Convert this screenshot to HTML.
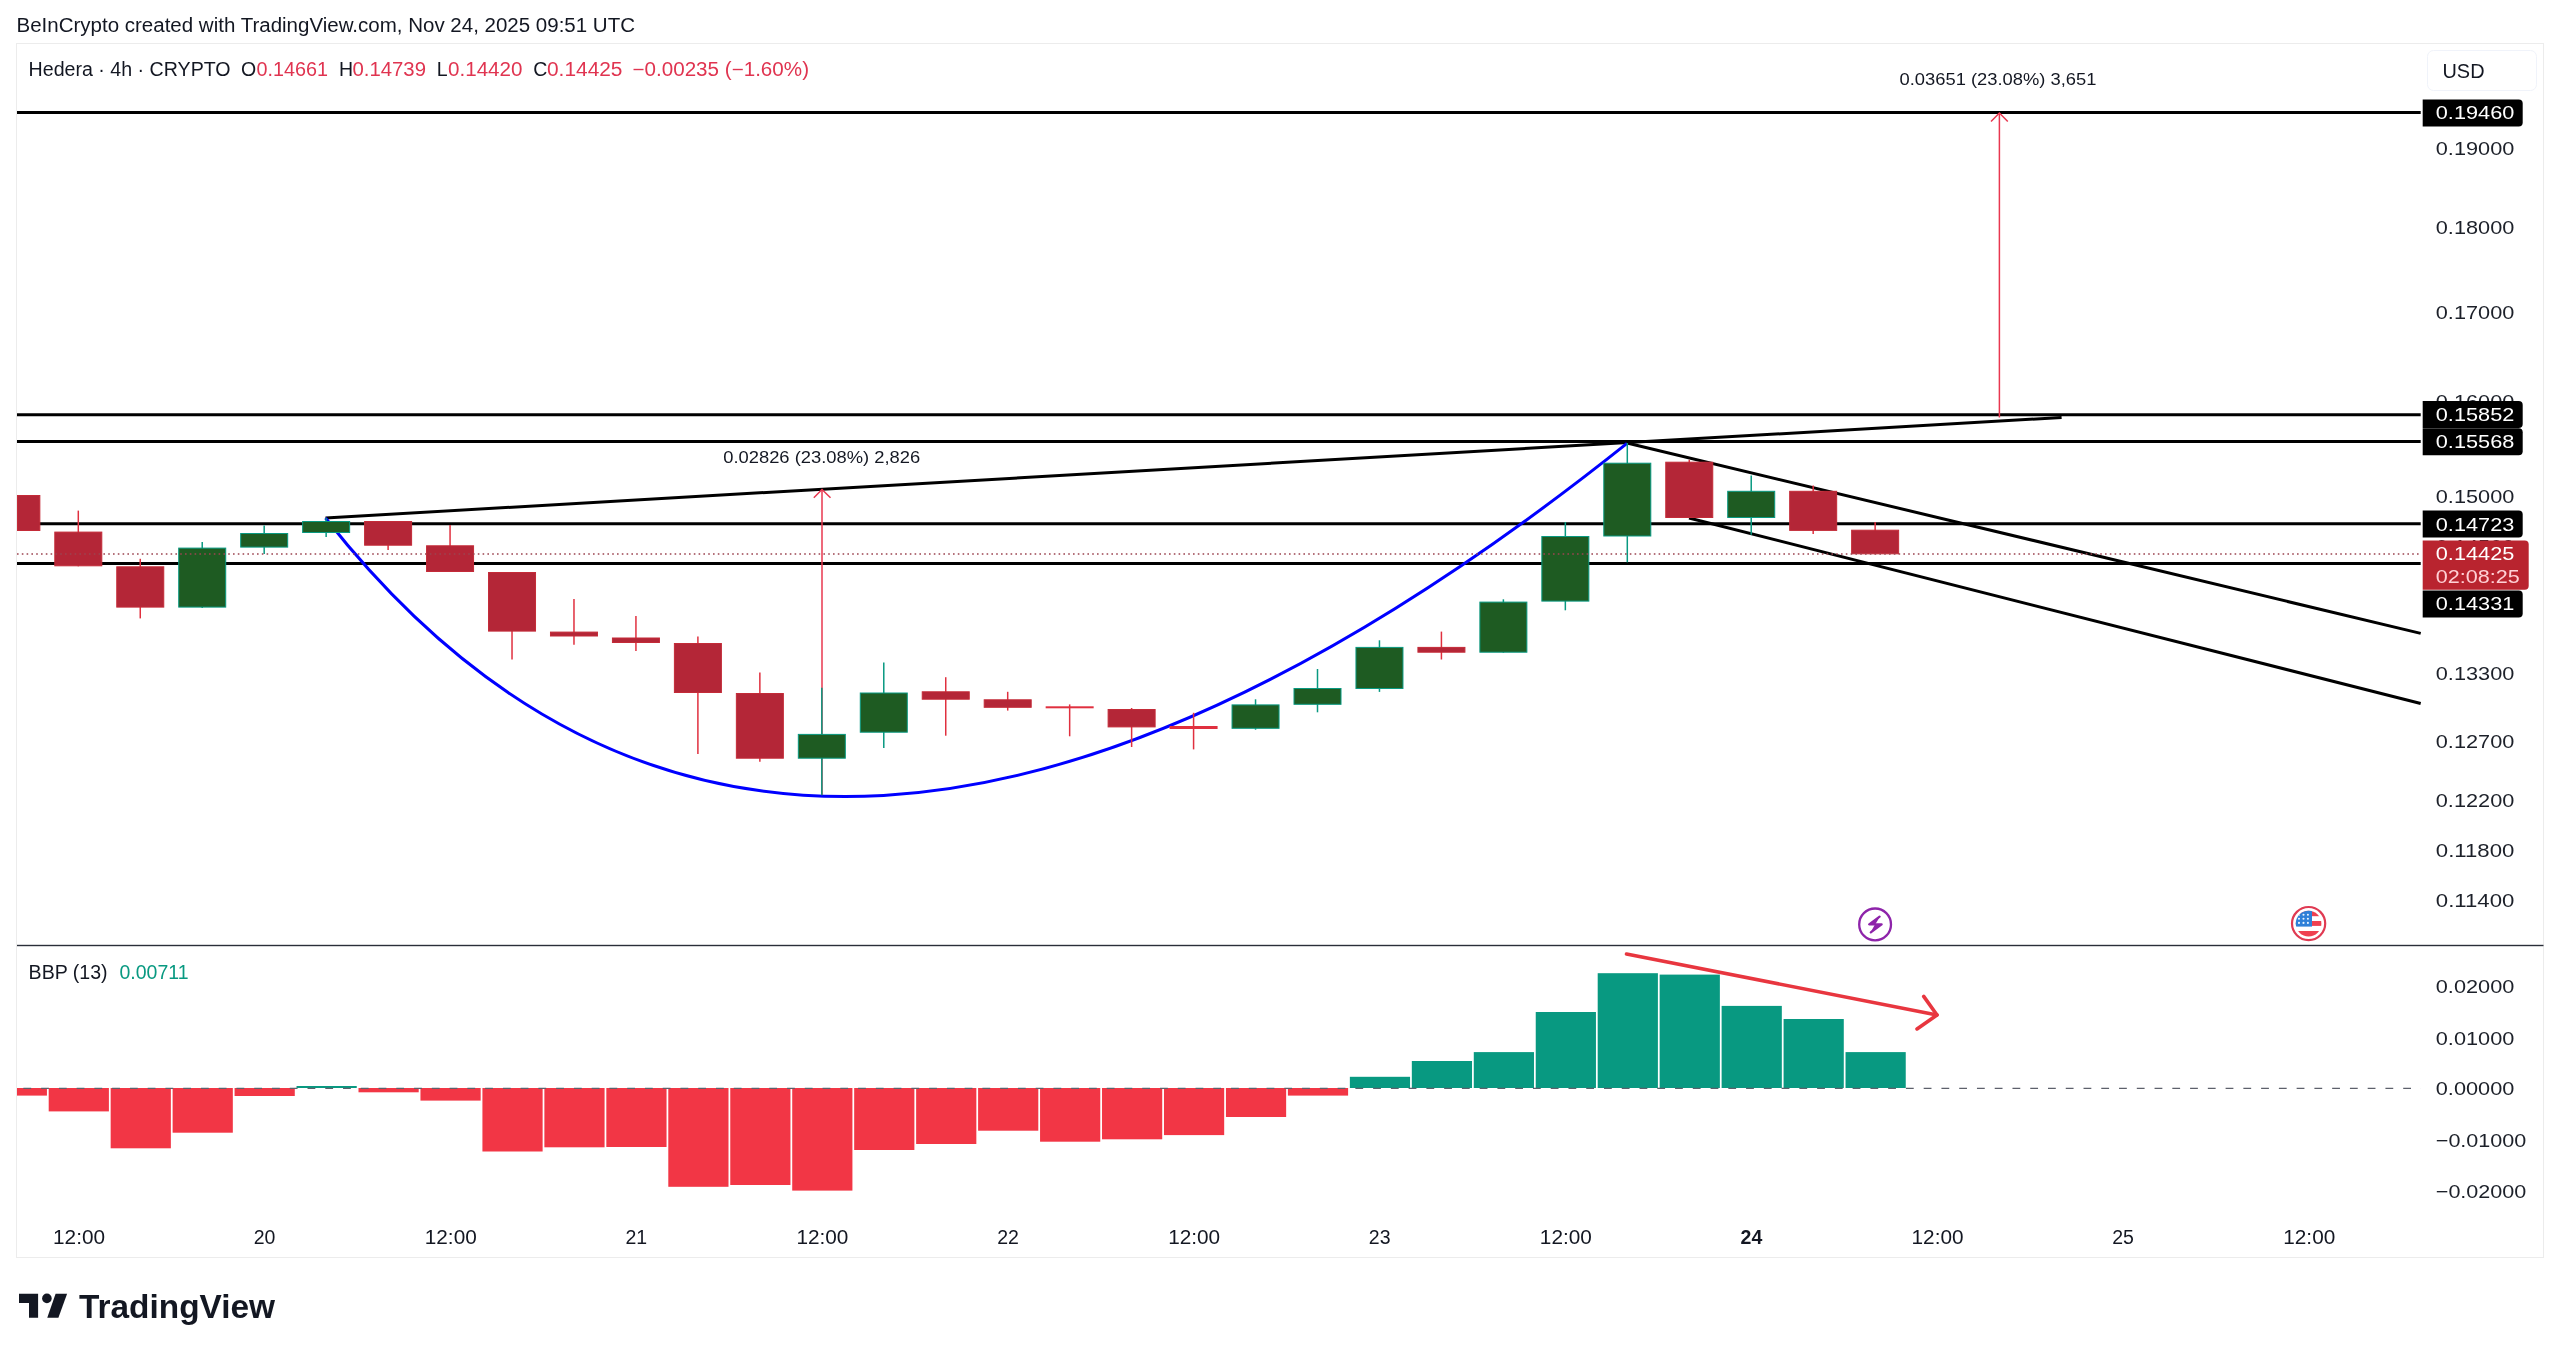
<!DOCTYPE html>
<html><head><meta charset="utf-8"><style>
html,body{margin:0;padding:0;background:#fff;width:2560px;height:1355px;overflow:hidden}
svg{display:block;will-change:transform}
text{font-family:"Liberation Sans",sans-serif}
</style></head><body>
<svg width="2560" height="1355" viewBox="0 0 2560 1355">
<rect width="2560" height="1355" fill="#fff"/>
<rect x="16.5" y="43.5" width="2527" height="1214" fill="#ffffff" stroke="#ececec" stroke-width="1"/>
<text x="16.50" y="32.10" font-size="19.5" fill="#131722" textLength="618.50" lengthAdjust="spacingAndGlyphs">BeInCrypto created with TradingView.com, Nov 24, 2025 09:51 UTC</text>
<text x="28.60" y="75.80" font-size="19.5" fill="#131722" textLength="202.00" lengthAdjust="spacingAndGlyphs">Hedera · 4h · CRYPTO</text>
<text x="241.00" y="75.80" font-size="19.5" fill="#131722">O</text>
<text x="256.50" y="75.80" font-size="19.5" fill="#e03450" textLength="71.50" lengthAdjust="spacingAndGlyphs">0.14661</text>
<text x="339.00" y="75.80" font-size="19.5" fill="#131722">H</text>
<text x="352.50" y="75.80" font-size="19.5" fill="#e03450" textLength="73.50" lengthAdjust="spacingAndGlyphs">0.14739</text>
<text x="436.80" y="75.80" font-size="19.5" fill="#131722">L</text>
<text x="448.00" y="75.80" font-size="19.5" fill="#e03450" textLength="74.50" lengthAdjust="spacingAndGlyphs">0.14420</text>
<text x="533.20" y="75.80" font-size="19.5" fill="#131722">C</text>
<text x="547.00" y="75.80" font-size="19.5" fill="#e03450" textLength="75.50" lengthAdjust="spacingAndGlyphs">0.14425</text>
<text x="632.50" y="75.80" font-size="19.5" fill="#e03450" textLength="176.50" lengthAdjust="spacingAndGlyphs">−0.00235 (−1.60%)</text>
<rect x="2427.5" y="50.5" width="109" height="40" rx="6" fill="#fff" stroke="#f0f3fa" stroke-width="1"/>
<text x="2442.50" y="77.50" font-size="19.5" fill="#131722" textLength="42.00" lengthAdjust="spacingAndGlyphs">USD</text>
<line x1="17" y1="112.6" x2="2420.7" y2="112.6" stroke="#000" stroke-width="3"/>
<line x1="17" y1="414.7" x2="2420.7" y2="414.7" stroke="#000" stroke-width="3"/>
<line x1="17" y1="441.6" x2="2420.7" y2="441.6" stroke="#000" stroke-width="3"/>
<line x1="17" y1="523.8" x2="2420.7" y2="523.8" stroke="#000" stroke-width="3"/>
<line x1="17" y1="563.4" x2="2420.7" y2="563.4" stroke="#000" stroke-width="3"/>
<g stroke="#000" stroke-width="3" stroke-linecap="butt">
<line x1="325.5" y1="518" x2="2061.6" y2="417.5"/>
<line x1="1627" y1="443" x2="2420.7" y2="633.4"/>
<line x1="1689" y1="518" x2="2420.7" y2="703.5"/>
</g>
<path d="M325.5 518 Q790.8 1110.3 1627 443.4" fill="none" stroke="#0000ff" stroke-width="3"/>
<g stroke="#e8374f" stroke-width="1.5" fill="none">
<line x1="822" y1="795" x2="822" y2="489.5"/>
<polyline points="813.8,497.8 822,489.5 830.5,497.8"/>
<line x1="1999.4" y1="417.5" x2="1999.4" y2="113"/>
<polyline points="1991,121.5 1999.4,113 2007.8,121.5"/>
</g>
<text x="723.20" y="462.60" font-size="16.5" fill="#131722" textLength="197.00" lengthAdjust="spacingAndGlyphs">0.02826 (23.08%) 2,826</text>
<text x="1899.50" y="85.20" font-size="16.5" fill="#131722" textLength="197.00" lengthAdjust="spacingAndGlyphs">0.03651 (23.08%) 3,651</text>
<g>
<rect x="17.50" y="495.50" width="22.34" height="35.00" fill="#b42637" stroke="#c42b38" stroke-width="1"/>
<line x1="78.30" y1="510.6" x2="78.30" y2="566.3" stroke="#e0303f" stroke-width="1.5"/>
<rect x="54.80" y="532.10" width="47.00" height="33.70" fill="#b42637" stroke="#c42b38" stroke-width="1"/>
<line x1="140.26" y1="558.8" x2="140.26" y2="618.4" stroke="#e0303f" stroke-width="1.5"/>
<rect x="116.76" y="566.80" width="47.00" height="40.30" fill="#b42637" stroke="#c42b38" stroke-width="1"/>
<line x1="202.22" y1="542" x2="202.22" y2="608" stroke="#089981" stroke-width="1.5"/>
<rect x="178.72" y="548.10" width="47.00" height="59.00" fill="#1e5b22" stroke="#089981" stroke-width="1"/>
<line x1="264.18" y1="525.6" x2="264.18" y2="554" stroke="#089981" stroke-width="1.5"/>
<rect x="240.68" y="533.50" width="47.00" height="13.60" fill="#1e5b22" stroke="#089981" stroke-width="1"/>
<line x1="326.14" y1="518" x2="326.14" y2="537" stroke="#089981" stroke-width="1.5"/>
<rect x="302.64" y="521.50" width="47.00" height="11.00" fill="#1e5b22" stroke="#089981" stroke-width="1"/>
<line x1="388.10" y1="521" x2="388.10" y2="550" stroke="#e0303f" stroke-width="1.5"/>
<rect x="364.60" y="521.50" width="47.00" height="23.70" fill="#b42637" stroke="#c42b38" stroke-width="1"/>
<line x1="450.06" y1="525" x2="450.06" y2="572" stroke="#e0303f" stroke-width="1.5"/>
<rect x="426.56" y="545.80" width="47.00" height="25.70" fill="#b42637" stroke="#c42b38" stroke-width="1"/>
<line x1="512.02" y1="572" x2="512.02" y2="659.5" stroke="#e0303f" stroke-width="1.5"/>
<rect x="488.52" y="572.50" width="47.00" height="58.60" fill="#b42637" stroke="#c42b38" stroke-width="1"/>
<line x1="573.98" y1="599" x2="573.98" y2="644.8" stroke="#e0303f" stroke-width="1.5"/>
<rect x="550.48" y="632.10" width="47.00" height="3.90" fill="#b42637" stroke="#c42b38" stroke-width="1"/>
<line x1="635.94" y1="616" x2="635.94" y2="651" stroke="#e0303f" stroke-width="1.5"/>
<rect x="612.44" y="638.00" width="47.00" height="4.50" fill="#b42637" stroke="#c42b38" stroke-width="1"/>
<line x1="697.90" y1="636.5" x2="697.90" y2="754" stroke="#e0303f" stroke-width="1.5"/>
<rect x="674.40" y="643.50" width="47.00" height="49.00" fill="#b42637" stroke="#c42b38" stroke-width="1"/>
<line x1="759.86" y1="672.5" x2="759.86" y2="761.8" stroke="#e0303f" stroke-width="1.5"/>
<rect x="736.36" y="693.50" width="47.00" height="64.70" fill="#b42637" stroke="#c42b38" stroke-width="1"/>
<line x1="821.82" y1="687.8" x2="821.82" y2="795.3" stroke="#089981" stroke-width="1.5"/>
<rect x="798.32" y="734.40" width="47.00" height="23.80" fill="#1e5b22" stroke="#089981" stroke-width="1"/>
<line x1="883.78" y1="662.5" x2="883.78" y2="748" stroke="#089981" stroke-width="1.5"/>
<rect x="860.28" y="693.00" width="47.00" height="39.20" fill="#1e5b22" stroke="#089981" stroke-width="1"/>
<line x1="945.74" y1="677.2" x2="945.74" y2="735.7" stroke="#e0303f" stroke-width="1.5"/>
<rect x="922.24" y="691.80" width="47.00" height="7.40" fill="#b42637" stroke="#c42b38" stroke-width="1"/>
<line x1="1007.70" y1="691.8" x2="1007.70" y2="710.6" stroke="#e0303f" stroke-width="1.5"/>
<rect x="984.20" y="699.80" width="47.00" height="7.50" fill="#b42637" stroke="#c42b38" stroke-width="1"/>
<line x1="1069.66" y1="704.4" x2="1069.66" y2="736.3" stroke="#e0303f" stroke-width="1.5"/>
<rect x="1045.66" y="706.30" width="48.00" height="2.00" fill="#e0303f"/>
<line x1="1131.62" y1="708" x2="1131.62" y2="747" stroke="#e0303f" stroke-width="1.5"/>
<rect x="1108.12" y="709.50" width="47.00" height="17.40" fill="#b42637" stroke="#c42b38" stroke-width="1"/>
<line x1="1193.58" y1="712.8" x2="1193.58" y2="749.4" stroke="#e0303f" stroke-width="1.5"/>
<rect x="1169.58" y="726.00" width="48.00" height="3.00" fill="#e0303f"/>
<line x1="1255.54" y1="699.3" x2="1255.54" y2="729.7" stroke="#089981" stroke-width="1.5"/>
<rect x="1232.04" y="704.90" width="47.00" height="23.40" fill="#1e5b22" stroke="#089981" stroke-width="1"/>
<line x1="1317.50" y1="669" x2="1317.50" y2="712.3" stroke="#089981" stroke-width="1.5"/>
<rect x="1294.00" y="688.50" width="47.00" height="15.80" fill="#1e5b22" stroke="#089981" stroke-width="1"/>
<line x1="1379.46" y1="640.3" x2="1379.46" y2="691.9" stroke="#089981" stroke-width="1.5"/>
<rect x="1355.96" y="647.40" width="47.00" height="41.10" fill="#1e5b22" stroke="#089981" stroke-width="1"/>
<line x1="1441.42" y1="631.6" x2="1441.42" y2="659.5" stroke="#e0303f" stroke-width="1.5"/>
<rect x="1417.92" y="647.40" width="47.00" height="4.80" fill="#b42637" stroke="#c42b38" stroke-width="1"/>
<line x1="1503.38" y1="599.3" x2="1503.38" y2="652.7" stroke="#089981" stroke-width="1.5"/>
<rect x="1479.88" y="602.10" width="47.00" height="50.10" fill="#1e5b22" stroke="#089981" stroke-width="1"/>
<line x1="1565.34" y1="522" x2="1565.34" y2="610.3" stroke="#089981" stroke-width="1.5"/>
<rect x="1541.84" y="536.50" width="47.00" height="64.60" fill="#1e5b22" stroke="#089981" stroke-width="1"/>
<line x1="1627.30" y1="443" x2="1627.30" y2="562.3" stroke="#089981" stroke-width="1.5"/>
<rect x="1603.80" y="463.20" width="47.00" height="72.80" fill="#1e5b22" stroke="#089981" stroke-width="1"/>
<line x1="1689.26" y1="459.8" x2="1689.26" y2="518" stroke="#e0303f" stroke-width="1.5"/>
<rect x="1665.76" y="462.20" width="47.00" height="55.30" fill="#b42637" stroke="#c42b38" stroke-width="1"/>
<line x1="1751.22" y1="475.5" x2="1751.22" y2="534.8" stroke="#089981" stroke-width="1.5"/>
<rect x="1727.72" y="491.30" width="47.00" height="26.20" fill="#1e5b22" stroke="#089981" stroke-width="1"/>
<line x1="1813.18" y1="485.6" x2="1813.18" y2="534.1" stroke="#e0303f" stroke-width="1.5"/>
<rect x="1789.68" y="491.30" width="47.00" height="39.10" fill="#b42637" stroke="#c42b38" stroke-width="1"/>
<line x1="1875.14" y1="522" x2="1875.14" y2="554.3" stroke="#e0303f" stroke-width="1.5"/>
<rect x="1851.64" y="530.20" width="47.00" height="23.60" fill="#b42637" stroke="#c42b38" stroke-width="1"/>
</g>
<line x1="17" y1="554" x2="2421" y2="554" stroke="#9c4450" stroke-width="1.6" stroke-dasharray="1.6 3.2"/>
<text x="2435.80" y="154.65" font-size="19" fill="#1c2029" textLength="78.50" lengthAdjust="spacingAndGlyphs">0.19000</text>
<text x="2435.80" y="234.33" font-size="19" fill="#1c2029" textLength="78.50" lengthAdjust="spacingAndGlyphs">0.18000</text>
<text x="2435.80" y="318.56" font-size="19" fill="#1c2029" textLength="78.50" lengthAdjust="spacingAndGlyphs">0.17000</text>
<text x="2435.80" y="407.89" font-size="19" fill="#1c2029" textLength="78.50" lengthAdjust="spacingAndGlyphs">0.16000</text>
<text x="2435.80" y="503.00" font-size="19" fill="#1c2029" textLength="78.50" lengthAdjust="spacingAndGlyphs">0.15000</text>
<text x="2435.80" y="552.95" font-size="19" fill="#1c2029" textLength="78.50" lengthAdjust="spacingAndGlyphs">0.14500</text>
<text x="2435.80" y="680.25" font-size="19" fill="#1c2029" textLength="78.50" lengthAdjust="spacingAndGlyphs">0.13300</text>
<text x="2435.80" y="748.27" font-size="19" fill="#1c2029" textLength="78.50" lengthAdjust="spacingAndGlyphs">0.12700</text>
<text x="2435.80" y="807.46" font-size="19" fill="#1c2029" textLength="78.50" lengthAdjust="spacingAndGlyphs">0.12200</text>
<text x="2435.80" y="856.59" font-size="19" fill="#1c2029" textLength="78.50" lengthAdjust="spacingAndGlyphs">0.11800</text>
<text x="2435.80" y="907.41" font-size="19" fill="#1c2029" textLength="78.50" lengthAdjust="spacingAndGlyphs">0.11400</text>
<path d="M2422.7 99.5 H2518.7 Q2522.7 99.5 2522.7 103.5 V122.5 Q2522.7 126.5 2518.7 126.5 H2422.7 Z" fill="#000"/>
<text x="2435.80" y="119.40" font-size="19" fill="#fff" textLength="78.50" lengthAdjust="spacingAndGlyphs">0.19460</text>
<path d="M2422.7 401.1 H2518.7 Q2522.7 401.1 2522.7 405.1 V424.1 Q2522.7 428.1 2518.7 428.1 H2422.7 Z" fill="#000"/>
<text x="2435.80" y="421.00" font-size="19" fill="#fff" textLength="78.50" lengthAdjust="spacingAndGlyphs">0.15852</text>
<path d="M2422.7 428.2 H2518.7 Q2522.7 428.2 2522.7 432.2 V451.2 Q2522.7 455.2 2518.7 455.2 H2422.7 Z" fill="#000"/>
<text x="2435.80" y="448.10" font-size="19" fill="#fff" textLength="78.50" lengthAdjust="spacingAndGlyphs">0.15568</text>
<path d="M2422.7 510.6 H2518.7 Q2522.7 510.6 2522.7 514.6 V533.6 Q2522.7 537.6 2518.7 537.6 H2422.7 Z" fill="#000"/>
<text x="2435.80" y="530.50" font-size="19" fill="#fff" textLength="78.50" lengthAdjust="spacingAndGlyphs">0.14723</text>
<path d="M2422.7 540.5 H2524.7 Q2528.7 540.5 2528.7 544.5 V585.8 Q2528.7 589.8 2524.7 589.8 H2422.7 Z" fill="#b9242f"/>
<text x="2435.80" y="560.40" font-size="19" fill="#fff" textLength="78.50" lengthAdjust="spacingAndGlyphs">0.14425</text>
<text x="2435.80" y="582.50" font-size="19" fill="#ffd0d5" textLength="84.00" lengthAdjust="spacingAndGlyphs">02:08:25</text>
<path d="M2422.7 590.5 H2518.7 Q2522.7 590.5 2522.7 594.5 V613.5 Q2522.7 617.5 2518.7 617.5 H2422.7 Z" fill="#000"/>
<text x="2435.80" y="610.40" font-size="19" fill="#fff" textLength="78.50" lengthAdjust="spacingAndGlyphs">0.14331</text>
<g>
<circle cx="1875.1" cy="924.4" r="15.9" fill="#fff" stroke="#8e24aa" stroke-width="2.3"/>
<path d="M1879.6 916.6 L1869.2 924.4 L1881.6 924.4 L1870.8 932.4" fill="none" stroke="#8e24aa" stroke-width="2.3" stroke-linejoin="round" stroke-linecap="round"/>
<path d="M1880.3 916.0 L1875.2 924.4 L1869.2 924.4 Z" fill="#8e24aa"/>
<path d="M1881.6 924.4 L1875.0 924.4 L1870.2 933.0 Z" fill="#8e24aa"/>
</g>
<g>
<circle cx="2308.6" cy="923.6" r="16.6" fill="#fff" stroke="#e03a52" stroke-width="2.2"/>
<clipPath id="fc"><circle cx="2308.6" cy="923.6" r="12.8"/></clipPath>
<g clip-path="url(#fc)">
<rect x="2290" y="905" width="37" height="11.2" fill="#ef4050"/>
<rect x="2290" y="921" width="37" height="4.9" fill="#ef4050"/>
<rect x="2290" y="931" width="37" height="12" fill="#ef4050"/>
<rect x="2290" y="905" width="22" height="21.6" fill="#2f80d8"/>
<circle cx="2299.0" cy="914.8" r="1.05" fill="#e8f4ff"/>
<circle cx="2303.5" cy="914.8" r="1.05" fill="#e8f4ff"/>
<circle cx="2307.9" cy="914.8" r="1.05" fill="#e8f4ff"/>
<circle cx="2299.0" cy="918.8" r="1.05" fill="#e8f4ff"/>
<circle cx="2303.5" cy="918.8" r="1.05" fill="#e8f4ff"/>
<circle cx="2307.9" cy="918.8" r="1.05" fill="#e8f4ff"/>
<circle cx="2299.0" cy="922.9" r="1.05" fill="#e8f4ff"/>
<circle cx="2303.5" cy="922.9" r="1.05" fill="#e8f4ff"/>
<circle cx="2307.9" cy="922.9" r="1.05" fill="#e8f4ff"/>
</g>
</g>
<rect x="17" y="944.8" width="2526.5" height="1.4" fill="#2a2e39"/>
<text x="28.60" y="979.20" font-size="19.5" fill="#131722" textLength="79.00" lengthAdjust="spacingAndGlyphs">BBP (13)</text>
<text x="119.50" y="979.20" font-size="19.5" fill="#089981" textLength="69.00" lengthAdjust="spacingAndGlyphs">0.00711</text>
<g>
<rect x="17.00" y="1088" width="29.94" height="7.60" fill="#F23645"/>
<rect x="48.70" y="1088" width="60.20" height="23.40" fill="#F23645"/>
<rect x="110.66" y="1088" width="60.20" height="60.30" fill="#F23645"/>
<rect x="172.62" y="1088" width="60.20" height="44.70" fill="#F23645"/>
<rect x="234.58" y="1088" width="60.20" height="8.00" fill="#F23645"/>
<rect x="296.54" y="1086" width="60.20" height="2.00" fill="#089981"/>
<rect x="358.50" y="1088" width="60.20" height="4.30" fill="#F23645"/>
<rect x="420.46" y="1088" width="60.20" height="12.60" fill="#F23645"/>
<rect x="482.42" y="1088" width="60.20" height="63.50" fill="#F23645"/>
<rect x="544.38" y="1088" width="60.20" height="59.30" fill="#F23645"/>
<rect x="606.34" y="1088" width="60.20" height="59.00" fill="#F23645"/>
<rect x="668.30" y="1088" width="60.20" height="98.80" fill="#F23645"/>
<rect x="730.26" y="1088" width="60.20" height="97.00" fill="#F23645"/>
<rect x="792.22" y="1088" width="60.20" height="102.60" fill="#F23645"/>
<rect x="854.18" y="1088" width="60.20" height="62.00" fill="#F23645"/>
<rect x="916.14" y="1088" width="60.20" height="56.00" fill="#F23645"/>
<rect x="978.10" y="1088" width="60.20" height="42.70" fill="#F23645"/>
<rect x="1040.06" y="1088" width="60.20" height="53.70" fill="#F23645"/>
<rect x="1102.02" y="1088" width="60.20" height="51.30" fill="#F23645"/>
<rect x="1163.98" y="1088" width="60.20" height="47.10" fill="#F23645"/>
<rect x="1225.94" y="1088" width="60.20" height="29.00" fill="#F23645"/>
<rect x="1287.90" y="1088" width="60.20" height="7.60" fill="#F23645"/>
<rect x="1349.86" y="1076.8" width="60.20" height="11.20" fill="#089981"/>
<rect x="1411.82" y="1061" width="60.20" height="27.00" fill="#089981"/>
<rect x="1473.78" y="1052.1" width="60.20" height="35.90" fill="#089981"/>
<rect x="1535.74" y="1012" width="60.20" height="76.00" fill="#089981"/>
<rect x="1597.70" y="973.2" width="60.20" height="114.80" fill="#089981"/>
<rect x="1659.66" y="974.6" width="60.20" height="113.40" fill="#089981"/>
<rect x="1721.62" y="1005.9" width="60.20" height="82.10" fill="#089981"/>
<rect x="1783.58" y="1019" width="60.20" height="69.00" fill="#089981"/>
<rect x="1845.54" y="1052.1" width="60.20" height="35.90" fill="#089981"/>
</g>
<line x1="17" y1="1088.4" x2="2421" y2="1088.4" stroke="#5d606b" stroke-width="1.3" stroke-dasharray="7.8 9.96" stroke-dashoffset="11.4"/>
<text x="2435.80" y="993.20" font-size="19" fill="#1c2029" textLength="78.50" lengthAdjust="spacingAndGlyphs">0.02000</text>
<text x="2435.80" y="1044.60" font-size="19" fill="#1c2029" textLength="78.50" lengthAdjust="spacingAndGlyphs">0.01000</text>
<text x="2435.80" y="1095.40" font-size="19" fill="#1c2029" textLength="78.50" lengthAdjust="spacingAndGlyphs">0.00000</text>
<text x="2435.80" y="1147.20" font-size="19" fill="#1c2029" textLength="90.50" lengthAdjust="spacingAndGlyphs">−0.01000</text>
<text x="2435.80" y="1197.60" font-size="19" fill="#1c2029" textLength="90.50" lengthAdjust="spacingAndGlyphs">−0.02000</text>
<g stroke="#e8363f" stroke-width="3.6" fill="none" stroke-linecap="round" stroke-linejoin="round">
<line x1="1626.5" y1="954" x2="1937" y2="1015"/>
<polyline points="1923.7,996.4 1937,1015 1917,1028.9"/>
</g>
<text x="53.05" y="1243.60" font-size="19.5" fill="#131722" textLength="52.00" lengthAdjust="spacingAndGlyphs">12:00</text>
<text x="264.60" y="1243.60" font-size="19.5" fill="#131722" text-anchor="middle">20</text>
<text x="424.75" y="1243.60" font-size="19.5" fill="#131722" textLength="52.00" lengthAdjust="spacingAndGlyphs">12:00</text>
<text x="636.30" y="1243.60" font-size="19.5" fill="#131722" text-anchor="middle">21</text>
<text x="796.45" y="1243.60" font-size="19.5" fill="#131722" textLength="52.00" lengthAdjust="spacingAndGlyphs">12:00</text>
<text x="1008.00" y="1243.60" font-size="19.5" fill="#131722" text-anchor="middle">22</text>
<text x="1168.15" y="1243.60" font-size="19.5" fill="#131722" textLength="52.00" lengthAdjust="spacingAndGlyphs">12:00</text>
<text x="1379.70" y="1243.60" font-size="19.5" fill="#131722" text-anchor="middle">23</text>
<text x="1539.85" y="1243.60" font-size="19.5" fill="#131722" textLength="52.00" lengthAdjust="spacingAndGlyphs">12:00</text>
<text x="1751.40" y="1243.60" font-size="19.5" fill="#131722" text-anchor="middle" font-weight="bold">24</text>
<text x="1911.55" y="1243.60" font-size="19.5" fill="#131722" textLength="52.00" lengthAdjust="spacingAndGlyphs">12:00</text>
<text x="2123.10" y="1243.60" font-size="19.5" fill="#131722" text-anchor="middle">25</text>
<text x="2283.25" y="1243.60" font-size="19.5" fill="#131722" textLength="52.00" lengthAdjust="spacingAndGlyphs">12:00</text>
<g fill="#131722">
<path d="M19 1293.75 H38.1 V1317.75 H29 V1303.1 H19 Z"/>
<circle cx="46.9" cy="1298.4" r="4.8"/>
<path d="M55.6 1293.75 H67.1 L58.4 1317.75 H47.25 Z"/>
</g>
<text x="79.00" y="1317.75" font-size="33" fill="#131722" textLength="196.00" lengthAdjust="spacingAndGlyphs" font-weight="bold">TradingView</text>
</svg>
</body></html>
